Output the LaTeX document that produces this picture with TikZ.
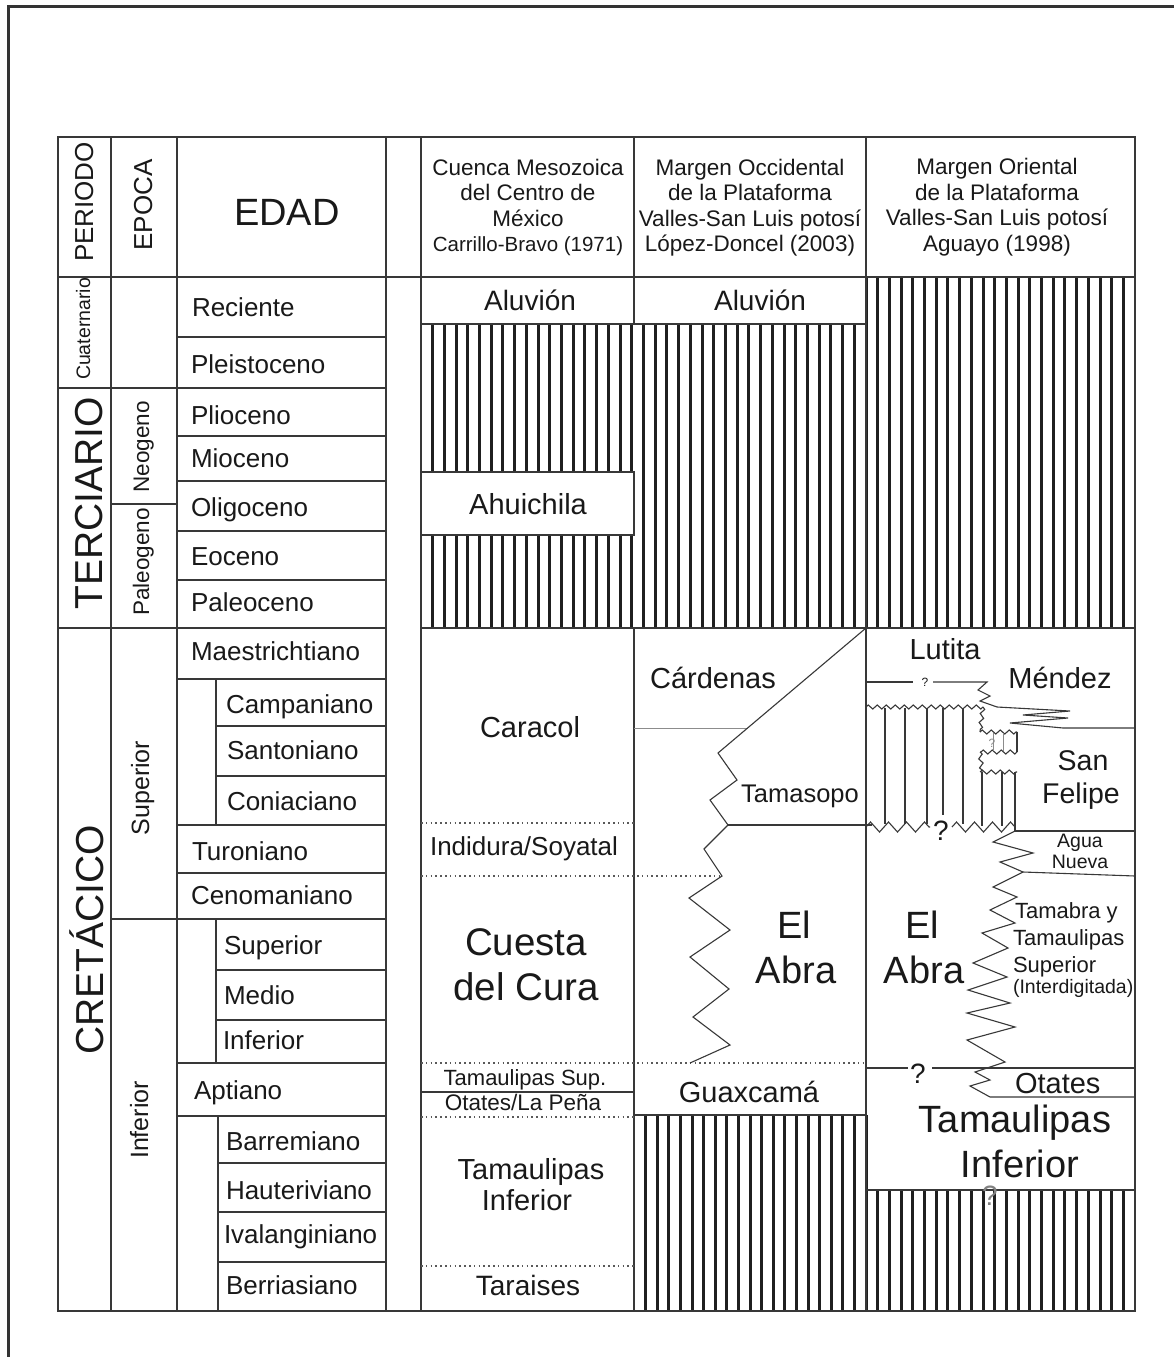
\documentclass[tikz,border=0pt]{standalone}
\usepackage{fontspec}
\setmainfont{Liberation Sans}
\usetikzlibrary{decorations.pathmorphing}
\newcommand\myfs[1]{\fontsize{#1}{#1}\selectfont}
\begin{document}
\begin{tikzpicture}[x=1pt,y=-1pt,
  grid/.style={line width=1.2pt, draw=black!78},
  frame/.style={line width=2.6pt, draw=black!80},
  stripe/.style={line width=3pt, draw=black!88},
  dots/.style={line width=1.2pt, draw=black!65, dash pattern=on 1.6pt off 3.2pt},
  contact/.style={line width=1.1pt, draw=black!78, line join=miter},
  thinl/.style={line width=1.1pt, draw=black!78},
  faint/.style={line width=0.9pt, draw=black!45},
  saw/.style={contact, decorate, decoration={zigzag, segment length=9pt, amplitude=2pt}},
  bigsaw/.style={contact, decorate, decoration={zigzag, segment length=18pt, amplitude=5pt}},
  txt/.style={inner sep=0pt, outer sep=0pt, text=black!90, anchor=base},
  age/.style={txt, anchor=base west, font=\myfs{26}},
  vert/.style={txt, rotate=90, anchor=base},
  hdr/.style={txt, font=\myfs{22.5}},
]
\useasboundingbox (0,0) rectangle (1174,1357);
\fill[white] (0,0) rectangle (1174,1357);
% outer frame
\draw[frame] (8.5,1357) -- (8.5,6.5) -- (1174,6.5);

% ---------- hatching ----------
\foreach \i in {1,...,37} \draw[stripe] ({421+\i*11.71},324) -- ({421+\i*11.71},628);
\foreach \i in {1,...,22} \draw[stripe] ({866+\i*11.7},277) -- ({866+\i*11.7},628);
\foreach \i in {1,...,19} \draw[stripe] ({634+\i*11.6},1115) -- ({634+\i*11.6},1311);
\foreach \i in {1,...,22} \draw[stripe] ({866+\i*11.7},1190) -- ({866+\i*11.7},1311);
\draw[stripe] (866,277) -- (866,628);
\draw[stripe] (866,1115) -- (866,1311);
\fill[white] (421,472) rectangle (634,535);
\draw[grid] (421,472) rectangle (634,535);

% ---------- table grid ----------
\draw[grid] (58,137) rectangle (1135,1311);
\draw[grid] (58,277) -- (1135,277);
\foreach \x in {111,177,386,421} \draw[grid] (\x,137) -- (\x,1311);
\draw[grid] (634,137) -- (634,324);
\draw[grid] (634,628) -- (634,1311);
\draw[grid] (866,137) -- (866,1311);
\draw[grid] (421,324) -- (866,324);
\draw[grid] (421,628) -- (1135,628);
\foreach \y in {337,436,481,531,580,679,825,873,1063,1116} \draw[grid] (177,\y) -- (386,\y);
\foreach \y in {388,628} \draw[grid] (58,\y) -- (386,\y);
\draw[grid] (111,504) -- (177,504);
\draw[grid] (111,919) -- (386,919);
\foreach \y in {726,776,970,1020} \draw[grid] (216,\y) -- (386,\y);
\foreach \y in {1163,1212,1262} \draw[grid] (218,\y) -- (386,\y);
\draw[grid] (216,679) -- (216,825);
\draw[grid] (216,919) -- (216,1063);
\draw[grid] (218,1116) -- (218,1311);

% ---------- column 1 ----------
\draw[dots] (421,823) -- (634,823);
\draw[dots] (421,876) -- (722,876);
\draw[dots] (421,1063) -- (866,1063);
\draw[grid] (421,1092) -- (634,1092);
\draw[dots] (421,1117) -- (634,1117);
\draw[dots] (421,1266) -- (634,1266);

% ---------- column 2 ----------
\draw[faint] (634,728) -- (748,728);
\draw[contact] (866,628) -- (718,753) -- (737,780) -- (710,800) -- (728,825) -- (704,849) -- (722,876) -- (689,898) -- (730,930) -- (690,957) -- (729,989) -- (693,1017) -- (730,1045) -- (690,1063);
\draw[contact] (728,825) -- (872,825);
\draw[grid] (634,1115) -- (866,1115);

% ---------- column 3 ----------
\draw[contact] (866,682) -- (913,682);
\node[txt, font=\myfs{12}] (q1) at (925,686) {?};
\draw[contact] (933,682) -- (987,682) -- (978,690) -- (990,696) -- (980,701) -- (997,707) -- (1070,711) -- (1023,715) -- (1068,718) -- (1010,723) -- (1063,728) -- (1135,728);
\draw[saw] (866,707) -- (983,707);
\draw[saw] (983,707) -- (980,732);
\draw[saw] (980,732) -- (1017,732);
\draw[contact] (1017,732) -- (1017,752);
\draw[saw] (1017,752) -- (980,752);
\draw[saw] (980,752) -- (982,772);
\draw[saw] (980,772) -- (1017,772);
\draw[contact] (1015,772) -- (1015,831);
\foreach \x in {885,905,927,963} \draw[thinl] (\x,708) -- (\x,824);
\draw[thinl] (943,708) -- (943,815);
\foreach \x in {982,1002} \draw[thinl] (\x,772) -- (\x,826);
\foreach \x in {993,1003} \draw[faint] (\x,733) -- (\x,751);
\node[txt, font=\myfs{12}, text=black!45] (q2) at (992,747) {?};
\draw[bigsaw] (866,827) -- (930,827);
\draw[bigsaw] (952,827) -- (1015,827);
\node[txt, font=\myfs{28}] (q3) at (941,840) {?};
\draw[contact] (1015,831) -- (1135,831);
\draw[contact] (1015,831) -- (993,842) -- (1033,853) -- (1000,862) -- (1023,872) -- (1135,876);
\draw[contact] (1023,872) -- (993,887) -- (1017,897) -- (990,910) -- (1015,923) -- (982,933) -- (1008,948) -- (973,963) -- (1007,977) -- (968,990) -- (1010,1003) -- (967,1013) -- (1015,1027) -- (967,1040) -- (1005,1062) -- (975,1072) -- (990,1080) -- (970,1086) -- (990,1097) -- (1135,1097);
\draw[contact] (866,1068) -- (908,1068);
\node[txt, font=\myfs{28}] (q4) at (918,1083) {?};
\draw[contact] (932,1068) -- (1135,1068);
\draw[grid] (866,1190) -- (1135,1190);
\node[txt, font=\myfs{28}, text=black!50] (q5) at (990,1205) {?};

% ---------- header texts ----------
\node[vert, font=\myfs{26}] (periodo) at (93,202) {PERIODO};
\node[vert, font=\myfs{26}] (epoca) at (152,205) {EPOCA};
\node[txt, font=\myfs{38}] (edad) at (287,225) {EDAD};
\node[hdr] (h1a) at (528,175) {Cuenca Mesozoica};
\node[hdr] (h1b) at (528,200) {del Centro de};
\node[hdr] (h1c) at (528,226) {México};
\node[txt, font=\myfs{20.5}] (h1d) at (528,251) {Carrillo-Bravo (1971)};
\node[hdr] (h2a) at (750,175) {Margen Occidental};
\node[hdr] (h2b) at (750,200) {de la Plataforma};
\node[hdr] (h2c) at (750,226) {Valles-San Luis potosí};
\node[hdr] (h2d) at (750,251) {López-Doncel (2003)};
\node[hdr] (h3a) at (997,174) {Margen Oriental};
\node[hdr] (h3b) at (997,200) {de la Plataforma};
\node[hdr] (h3c) at (997,225) {Valles-San Luis potosí};
\node[hdr] (h3d) at (997,251) {Aguayo (1998)};

% ---------- period / epoch ----------
\node[vert, font=\myfs{19.5}] (cuat) at (90,329) {Cuaternario};
\node[vert, font=\myfs{39}] (terc) at (102,503) {TERCIARIO};
\node[vert, font=\myfs{22.5}] (neog) at (149,447) {Neogeno};
\node[vert, font=\myfs{22.5}] (paleog) at (149,562) {Paleogeno};
\node[vert, font=\myfs{39}] (cret) at (103,940) {CRETÁCICO};
\node[vert, font=\myfs{25}] (supep) at (149,788) {Superior};
\node[vert, font=\myfs{25}] (infep) at (148,1120) {Inferior};

% ---------- ages ----------
\node[age] (a1) at (192,316) {Reciente};
\node[age] (a2) at (191,373) {Pleistoceno};
\node[age] (a3) at (191,424) {Plioceno};
\node[age] (a4) at (191,467) {Mioceno};
\node[age] (a5) at (191,516) {Oligoceno};
\node[age] (a6) at (191,565) {Eoceno};
\node[age] (a7) at (191,611) {Paleoceno};
\node[age] (a8) at (191,660) {Maestrichtiano};
\node[age] (a9) at (226,713) {Campaniano};
\node[age] (a10) at (227,759) {Santoniano};
\node[age] (a11) at (227,810) {Coniaciano};
\node[age] (a12) at (192,860) {Turoniano};
\node[age] (a13) at (191,904) {Cenomaniano};
\node[age] (a14) at (224,954) {Superior};
\node[age] (a15) at (224,1004) {Medio};
\node[age] (a16) at (223,1049) {Inferior};
\node[age] (a17) at (194,1099) {Aptiano};
\node[age] (a18) at (226,1150) {Barremiano};
\node[age] (a19) at (226,1199) {Hauteriviano};
\node[age] (a20) at (224,1243) {Ivalanginiano};
\node[age] (a21) at (226,1294) {Berriasiano};

% ---------- column 1 texts ----------
\node[txt, font=\myfs{28}] (alu1) at (530,310) {Aluvión};
\node[txt, font=\myfs{29}] (ahui) at (528,514) {Ahuichila};
\node[txt, font=\myfs{29}] (cara) at (530,737) {Caracol};
\node[txt, font=\myfs{26}] (indi) at (524,855) {Indidura/Soyatal};
\node[txt, font=\myfs{38.5}] (cues) at (526,955) {Cuesta};
\node[txt, font=\myfs{38.5}] (cura) at (526,1000) {del Cura};
\node[txt, font=\myfs{22}] (tsup) at (525,1085) {Tamaulipas Sup.};
\node[txt, font=\myfs{22.5}] (otpe) at (523,1110) {Otates/La Peña};
\node[txt, font=\myfs{29}] (tinf1) at (531,1179) {Tamaulipas};
\node[txt, font=\myfs{29}] (tinf2) at (527,1210) {Inferior};
\node[txt, font=\myfs{28}] (tara) at (528,1295) {Taraises};

% ---------- column 2 texts ----------
\node[txt, font=\myfs{28}] (alu2) at (760,310) {Aluvión};
\node[txt, font=\myfs{29}] (card) at (713,688) {Cárdenas};
\node[txt, font=\myfs{25.5}] (tams) at (800,802) {Tamasopo};
\node[txt, font=\myfs{38}] (el2) at (794,938) {El};
\node[txt, font=\myfs{38}] (abra2) at (796,983) {Abra};
\node[txt, font=\myfs{29}] (guax) at (749,1102) {Guaxcamá};

% ---------- column 3 texts ----------
\node[txt, font=\myfs{29}] (luti) at (945,659) {Lutita};
\node[txt, font=\myfs{29}] (mend) at (1060,688) {Méndez};
\node[txt, font=\myfs{28.5}] (san) at (1083,770) {San};
\node[txt, font=\myfs{28.5}] (feli) at (1081,803) {Felipe};
\node[txt, font=\myfs{19.5}] (agua) at (1080,847) {Agua};
\node[txt, font=\myfs{19.5}] (nuev) at (1080,868) {Nueva};
\node[txt, font=\myfs{38}] (el3) at (922,938) {El};
\node[txt, font=\myfs{38}] (abra3) at (924,983) {Abra};
\node[txt, anchor=base west, font=\myfs{22}] (tmb1) at (1015,918) {Tamabra y};
\node[txt, anchor=base west, font=\myfs{22}] (tmb2) at (1013,945) {Tamaulipas};
\node[txt, anchor=base west, font=\myfs{22}] (tmb3) at (1013,972) {Superior};
\node[txt, anchor=base west, font=\myfs{19.5}] (tmb4) at (1013,993) {(Interdigitada)};
\node[txt, anchor=base west, font=\myfs{29}] (otat) at (1015,1093) {Otates};
\node[txt, font=\myfs{38}] (tinf3) at (1015,1132) {Tamaulipas};
\node[txt, font=\myfs{38}] (tinf4) at (1020,1177) {Inferior};
\end{tikzpicture}
\end{document}
